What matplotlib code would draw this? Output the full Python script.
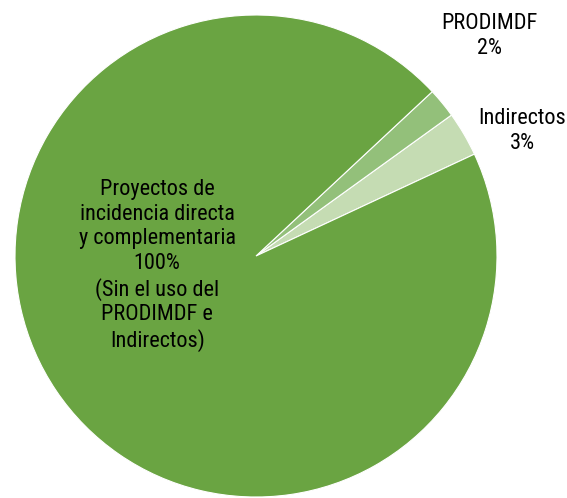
import matplotlib
matplotlib.use("Agg")
import matplotlib.pyplot as plt

labels = ["Indirectos\n3%", "PRODIMDF\n2%",
          "Proyectos de\nincidencia directa\ny complementaria\n100%\n(Sin el uso del\nPRODIMDF e\nIndirectos)"]
values = [3, 2, 95]
colors = ["#c5dcb3", "#93c07a", "#6aa442"]
label_pos = [(1.104, 0.519), (0.967, 0.913), (-0.41, -0.04)]

plt.rcParams['font.family'] = ['Roboto Condensed', 'Liberation Sans', 'DejaVu Sans']
fig = plt.figure(figsize=(5.67, 4.98), dpi=100)
ax = fig.add_axes([15/567, 1/498, 482/567, 482/498])
ax.pie(values, colors=colors, startangle=25, counterclock=True, radius=1,
       wedgeprops=dict(edgecolor="white", linewidth=0.8))
for lab, (x, y) in zip(labels, label_pos):
    ax.text(x, y, lab, ha="center", va="center", fontsize=16, linespacing=1.22,
            color="black")
ax.set_xlim(-1, 1)
ax.set_ylim(-1, 1)
ax.set_aspect("auto")
ax.axis("off")
fig.savefig("out.png", dpi=100)
